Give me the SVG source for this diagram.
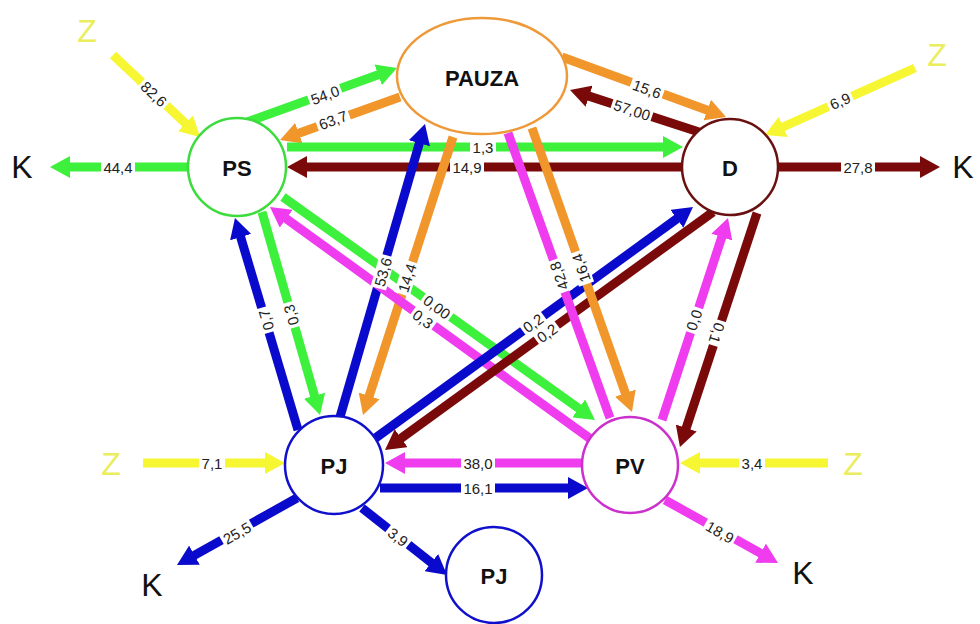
<svg xmlns="http://www.w3.org/2000/svg" width="980" height="624" viewBox="0 0 980 624">
<style>
.c line{stroke-width:9;fill:none}
.g{stroke:#3cf03c}.b{stroke:#0a0acc}.r{stroke:#7a0a0a}.o{stroke:#f0962a}.p{stroke:#ee3cee}.y{stroke:#f6f632}
.g.h{marker-end:url(#mg)}.b.h{marker-end:url(#mb)}.r.h{marker-end:url(#mr)}.o.h{marker-end:url(#mo)}.p.h{marker-end:url(#mp)}.y.h{marker-end:url(#my)}
.lb rect{fill:#fff}
.lb text{font-family:"Liberation Sans",Arial,sans-serif;font-size:15px;fill:#222;text-anchor:middle;dominant-baseline:central}
.n{fill:#fff;stroke-width:2.5}
.t{font-family:"Liberation Sans",Arial,sans-serif;font-weight:bold;font-size:22px;fill:#111;text-anchor:middle;dominant-baseline:central}
.k{font-family:"Liberation Sans",Arial,sans-serif;font-size:32px;fill:#111;text-anchor:middle;dominant-baseline:central}
.z{font-family:"Liberation Sans",Arial,sans-serif;font-size:32px;fill:#eaee5e;text-anchor:middle;dominant-baseline:central}
</style>
<defs>
<marker id="mg" markerUnits="userSpaceOnUse" viewBox="0 0 20 22" markerWidth="20" markerHeight="22" refX="9" refY="11" orient="auto"><path d="M0,0L20,11L0,22z" fill="#3cf03c"/></marker>
<marker id="mb" markerUnits="userSpaceOnUse" viewBox="0 0 20 22" markerWidth="20" markerHeight="22" refX="9" refY="11" orient="auto"><path d="M0,0L20,11L0,22z" fill="#0a0acc"/></marker>
<marker id="mr" markerUnits="userSpaceOnUse" viewBox="0 0 20 22" markerWidth="20" markerHeight="22" refX="9" refY="11" orient="auto"><path d="M0,0L20,11L0,22z" fill="#7a0a0a"/></marker>
<marker id="mo" markerUnits="userSpaceOnUse" viewBox="0 0 20 22" markerWidth="20" markerHeight="22" refX="9" refY="11" orient="auto"><path d="M0,0L20,11L0,22z" fill="#f0962a"/></marker>
<marker id="mp" markerUnits="userSpaceOnUse" viewBox="0 0 20 22" markerWidth="20" markerHeight="22" refX="9" refY="11" orient="auto"><path d="M0,0L20,11L0,22z" fill="#ee3cee"/></marker>
<marker id="my" markerUnits="userSpaceOnUse" viewBox="0 0 20 22" markerWidth="20" markerHeight="22" refX="9" refY="11" orient="auto"><path d="M0,0L20,11L0,22z" fill="#f6f632"/></marker>
</defs>
<rect width="980" height="624" fill="#fff"/>
<g id="connectors" class="c">
<line class="y h" x1="113" y1="55" x2="192" y2="129.5"/>
<line class="g h" x1="187" y1="167" x2="61" y2="167"/>
<line class="g h" x1="247" y1="122" x2="386.6" y2="71.7"/>
<line class="o h" x1="400" y1="97" x2="290.4" y2="136.3"/>
<line class="g h" x1="287" y1="147" x2="672" y2="147"/>
<line class="r h" x1="681" y1="167" x2="298" y2="167"/>
<line class="o h" x1="562" y1="57" x2="715.7" y2="113.2"/>
<line class="r h" x1="702" y1="133" x2="580.5" y2="93.4"/>
<line class="y h" x1="915" y1="68" x2="775" y2="130.5"/>
<line class="r h" x1="778" y1="167" x2="929" y2="167"/>
<line class="g h" x1="262" y1="212" x2="317" y2="404.4"/>
<line class="b h" x1="298" y1="430" x2="238.1" y2="228.5"/>
<line class="b h" x1="340" y1="417" x2="421.9" y2="134.6"/>
<line class="o h" x1="453" y1="137" x2="366.4" y2="404.5"/>
<line class="g h" x1="283" y1="197" x2="586" y2="413.6"/>
<line class="p h" x1="592" y1="440" x2="278.9" y2="213.4"/>
<line class="b h" x1="370" y1="442" x2="684.1" y2="213.5"/>
<line class="r h" x1="713" y1="212" x2="393.9" y2="443.5"/>
<line class="p" x1="610" y1="418" x2="508" y2="133"/>
<line class="o h" x1="532" y1="128" x2="628.3" y2="401.6"/>
<line class="p h" x1="662" y1="420" x2="724.6" y2="228.5"/>
<line class="r h" x1="757" y1="213" x2="683.4" y2="436.5"/>
<line class="p h" x1="583" y1="463" x2="396" y2="463"/>
<line class="b h" x1="380" y1="488" x2="577" y2="488"/>
<line class="y h" x1="143" y1="463" x2="274" y2="463"/>
<line class="y h" x1="828" y1="463" x2="691" y2="463"/>
<line class="b h" x1="297" y1="498" x2="186.6" y2="559.6"/>
<line class="b h" x1="362" y1="508" x2="438.4" y2="568.2"/>
<line class="p h" x1="665" y1="500" x2="768.4" y2="557.6"/>
<g class="lb">
<g transform="translate(154,94) rotate(43)"><rect x="-17" y="-8" width="34" height="16"/><text>82,6</text></g>
<g transform="translate(118,167)"><rect x="-17" y="-8" width="34" height="16"/><text>44,4</text></g>
<g transform="translate(325,95) rotate(-20)"><rect x="-17" y="-8" width="34" height="16"/><text>54,0</text></g>
<g transform="translate(333,120) rotate(-20)"><rect x="-17" y="-8" width="34" height="16"/><text>63,7</text></g>
<g transform="translate(483,147)"><rect x="-13" y="-8" width="26" height="16"/><text>1,3</text></g>
<g transform="translate(467,167)"><rect x="-17" y="-8" width="34" height="16"/><text>14,9</text></g>
<g transform="translate(647,89) rotate(20)"><rect x="-17" y="-8" width="34" height="16"/><text>15,6</text></g>
<g transform="translate(632,110) rotate(18)"><rect x="-21" y="-8" width="42" height="16"/><text>57,00</text></g>
<g transform="translate(840,101) rotate(-24)"><rect x="-13" y="-8" width="26" height="16"/><text>6,9</text></g>
<g transform="translate(858,167)"><rect x="-17" y="-8" width="34" height="16"/><text>27,8</text></g>
<g transform="translate(291,315) rotate(-106)"><rect x="-13" y="-8" width="26" height="16"/><text>0,3</text></g>
<g transform="translate(266,320) rotate(-106)"><rect x="-13" y="-8" width="26" height="16"/><text>0,7</text></g>
<g transform="translate(383,272) rotate(-74)"><rect x="-17" y="-8" width="34" height="16"/><text>53,6</text></g>
<g transform="translate(407,278) rotate(-72)"><rect x="-17" y="-8" width="34" height="16"/><text>14,4</text></g>
<g transform="translate(437,307) rotate(36)"><rect x="-17" y="-8" width="34" height="16"/><text>0,00</text></g>
<g transform="translate(423,319) rotate(36)"><rect x="-13" y="-8" width="26" height="16"/><text>0,3</text></g>
<g transform="translate(533,323) rotate(-36)"><rect x="-13" y="-8" width="26" height="16"/><text>0,2</text></g>
<g transform="translate(547,333) rotate(-36)"><rect x="-13" y="-8" width="26" height="16"/><text>0,2</text></g>
<g transform="translate(559,276) rotate(-110)"><rect x="-17" y="-8" width="34" height="16"/><text>42,8</text></g>
<g transform="translate(581,268) rotate(-109)"><rect x="-17" y="-8" width="34" height="16"/><text>16,4</text></g>
<g transform="translate(694,320) rotate(-71)"><rect x="-13" y="-8" width="26" height="16"/><text>0,0</text></g>
<g transform="translate(717,333) rotate(108)"><rect x="-13" y="-8" width="26" height="16"/><text>0,1</text></g>
<g transform="translate(478,463)"><rect x="-17" y="-8" width="34" height="16"/><text>38,0</text></g>
<g transform="translate(478,488)"><rect x="-17" y="-8" width="34" height="16"/><text>16,1</text></g>
<g transform="translate(212,463)"><rect x="-13" y="-8" width="26" height="16"/><text>7,1</text></g>
<g transform="translate(752,463)"><rect x="-13" y="-8" width="26" height="16"/><text>3,4</text></g>
<g transform="translate(237,533) rotate(-30)"><rect x="-17" y="-8" width="34" height="16"/><text>25,5</text></g>
<g transform="translate(398,537) rotate(38)"><rect x="-13" y="-8" width="26" height="16"/><text>3,9</text></g>
<g transform="translate(720,532) rotate(30)"><rect x="-17" y="-8" width="34" height="16"/><text>18,9</text></g>
</g>
</g>
<g id="node-PAUZA"><ellipse class="n" cx="482" cy="76" rx="85" ry="58" stroke="#ee9a3a"/><text class="t" x="482" y="78">PAUZA</text></g>
<g id="node-PS"><circle class="n" cx="237" cy="167" r="49" stroke="#3cdc3c"/><text class="t" x="237" y="168">PS</text></g>
<g id="node-D"><circle class="n" cx="730" cy="167" r="48" stroke="#6a1010"/><text class="t" x="730" y="168">D</text></g>
<g id="node-PJ"><circle class="n" cx="334" cy="465" r="49" stroke="#1010cc"/><text class="t" x="334" y="466">PJ</text></g>
<g id="node-PV"><circle class="n" cx="630" cy="465" r="48" stroke="#cc30cc"/><text class="t" x="630" y="466">PV</text></g>
<g id="node-PJ2"><circle class="n" cx="494" cy="575" r="48" stroke="#1010cc"/><text class="t" x="494" y="576">PJ</text></g>
<g id="labels-Z"><text class="z" x="87" y="31">Z</text><text class="z" x="937" y="55">Z</text><text class="z" x="111" y="464">Z</text><text class="z" x="853" y="464">Z</text></g>
<g id="labels-K"><text class="k" x="22" y="167">K</text><text class="k" x="963" y="167">K</text><text class="k" x="152" y="585">K</text><text class="k" x="803" y="573">K</text></g>
</svg>
